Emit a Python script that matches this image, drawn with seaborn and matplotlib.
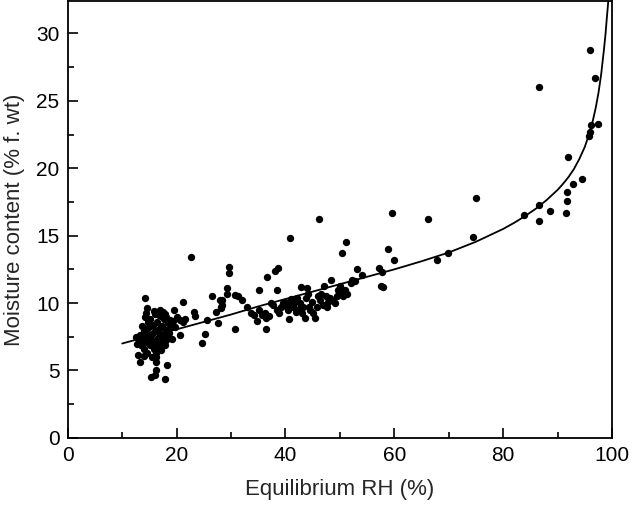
import matplotlib
matplotlib.use("Agg")
import matplotlib.pyplot as plt
import seaborn as sns
import pandas as pd
from matplotlib.ticker import MultipleLocator

# measured points: equilibrium RH (%) and moisture content (% f. wt)
rh = [
    # dense low-RH cluster
    13.0, 13.3, 13.5, 13.8, 14.0, 14.1, 14.3, 14.5, 14.6, 14.8, 15.0, 15.1, 15.3,
    15.4, 15.5, 15.7, 15.8, 16.0, 16.1, 16.2, 16.4, 16.5, 16.6, 16.8, 16.9, 17.0,
    17.1, 17.3, 17.4, 17.6, 17.7, 17.9, 18.0, 18.2, 18.4, 18.6, 18.9, 19.1, 19.4,
    14.2, 15.2, 16.8, 14.7, 13.6, 15.9, 17.9, 12.8, 12.6, 14.0, 16.3, 18.1,
    # low outliers
    12.9, 13.2, 16.3, 18.3, 16.2, 16.0, 15.3, 17.8,
    # 14-30 % above/around the line
    14.2, 21.1, 26.5, 28.4, 14.5, 14.3, 16.0, 16.9, 17.5, 17.2, 18.1, 18.75, 19.5,
    20.0, 20.6, 21.2, 21.5, 23.2, 23.3, 25.5, 27.3, 27.6, 28.2, 20.6, 25.2, 24.7,
    19.7, 22.7, 28.1,
    # 28-38 %
    29.7, 29.7, 36.6, 38.1, 38.7, 35.1, 38.4, 29.2, 29.2, 27.9, 28.3, 30.8, 31.3,
    32.1, 33.0, 30.7, 36.5, 33.7, 34.3, 34.7, 35.2, 35.6, 36.3, 36.5, 37.0, 37.3,
    # 38-53 % cluster
    37.7, 38.4, 38.8, 39.1, 39.5, 39.9, 40.2, 40.5, 40.7, 40.8, 41.1, 41.4, 41.7,
    41.9, 42.2, 42.4, 42.6, 42.8, 43.0, 43.3, 43.6, 43.8, 43.9, 44.2, 44.4, 44.5,
    44.8, 45.1, 45.4, 45.7, 46.0, 46.3, 46.6, 46.9, 47.1, 47.4, 47.7, 47.9, 48.2,
    48.4, 48.8, 49.1, 49.4, 49.7, 50.1, 50.3, 50.6, 50.9, 51.3, 52.0, 52.3, 52.7,
    # upper middle
    40.9, 46.1, 51.1, 50.4,
    # 53-75 %
    53.2, 54.1, 57.2, 57.7, 57.5, 58.0, 58.8, 60.0, 59.5, 66.2, 67.8, 69.8, 74.5, 75.0,
    # high RH
    83.8, 86.6, 86.6, 88.5, 86.6, 91.5, 91.7, 91.7, 92.9, 91.9, 94.5, 95.8, 96.0,
    96.1, 97.4, 96.9, 96.0,
]
mc = [
    7.2, 7.6, 6.9, 7.4, 8.0, 6.6, 7.1, 7.8, 6.3, 7.5, 8.2, 6.9, 7.3,
    6.0, 7.7, 8.4, 6.6, 7.1, 7.9, 6.3, 8.6, 7.4, 6.8, 8.1, 7.0, 7.7,
    6.5, 8.3, 7.2, 8.8, 7.6, 6.9, 8.0, 7.4, 8.5, 7.8, 8.2, 7.3, 8.7,
    9.0, 8.8, 9.1, 8.6, 8.3, 9.4, 9.2, 7.0, 7.5, 6.1, 6.0, 7.26,
    6.15, 5.65, 5.65, 5.4, 5.04, 4.67, 4.5, 4.35,
    10.35, 10.05, 10.5, 10.2, 9.6, 9.28, 9.19, 9.48, 9.36, 9.04, 8.94, 8.74, 9.48,
    8.94, 8.74, 8.62, 8.79, 9.36, 9.04, 8.74, 9.36, 8.49, 9.6, 7.63, 7.7, 7.06,
    8.2, 13.4, 9.7,
    12.7, 12.2, 11.9, 12.4, 12.6, 11.0, 11.0, 11.1, 10.7, 10.2, 9.85, 10.6, 10.5,
    10.2, 9.7, 8.1, 8.1, 9.24, 9.13, 8.64, 9.48, 9.09, 9.24, 8.86, 9.06, 10.0,
    9.83, 9.48, 9.28, 9.73, 9.98, 10.1, 9.73, 9.48, 8.79, 9.98, 10.27, 9.73, 10.1,
    9.36, 10.35, 9.53, 9.98, 11.2, 9.24, 9.73, 8.86, 10.35, 11.1, 10.7, 9.73, 9.48,
    10.1, 9.24, 8.91, 9.73, 10.5, 10.2, 10.7, 9.85, 11.3, 10.5, 9.73, 10.1, 10.35,
    11.7, 10.2, 9.98, 10.5, 10.96, 11.3, 10.7, 10.5, 10.96, 10.7, 11.5, 11.7, 11.6,
    14.8, 16.2, 14.5, 13.7,
    12.5, 12.1, 12.6, 12.3, 11.3, 11.2, 14.0, 13.2, 16.7, 16.2, 13.2, 13.7, 14.9, 17.8,
    16.5, 16.1, 17.3, 16.8, 26.0, 16.7, 17.6, 18.2, 18.8, 20.8, 19.2, 22.4, 22.7,
    23.2, 23.3, 26.7, 28.8,
]

# fitted isotherm
curve_rh = [10, 15, 20, 25, 30, 35, 40, 45, 50, 55, 60, 65, 70, 75, 80, 82, 84,
            86, 88, 90, 91, 92, 93, 94, 95, 96, 96.5, 97, 97.5, 98, 98.5, 98.8,
            99, 99.3]
curve_mc = [7.0, 7.55, 8.05, 8.6, 9.15, 9.75, 10.3, 10.85, 11.4, 11.95, 12.5,
            13.1, 13.75, 14.55, 15.5, 15.95, 16.45, 17.0, 17.65, 18.4, 18.85,
            19.35, 19.95, 20.7, 21.6, 22.8, 23.6, 24.5, 25.6, 27.0, 28.8, 30.0,
            31.0, 32.4]

points = pd.DataFrame({"rh": rh, "mc": mc})
curve = pd.DataFrame({"rh": curve_rh, "mc": curve_mc})

sns.set_style("ticks")
plt.rcParams["font.family"] = ["Liberation Sans", "DejaVu Sans"]

fig, ax = plt.subplots(figsize=(6.33, 5.08), dpi=100)
fig.subplots_adjust(left=0.107, right=0.967, bottom=0.138, top=0.998)

sns.scatterplot(data=points, x="rh", y="mc", ax=ax, color="black",
                s=28, linewidth=0, zorder=3)
sns.lineplot(data=curve, x="rh", y="mc", ax=ax, color="black",
             linewidth=1.3, sort=False, zorder=2)

ax.set_xlim(0, 100)
ax.set_ylim(0, 32.4)
ax.xaxis.set_major_locator(MultipleLocator(20))
ax.xaxis.set_minor_locator(MultipleLocator(10))
ax.yaxis.set_major_locator(MultipleLocator(5))
ax.yaxis.set_minor_locator(MultipleLocator(2.5))
ax.tick_params(which="both", direction="in", width=1.2, colors="black",
               labelsize=15, top=False, right=False)
ax.tick_params(which="major", length=7, pad=6)
ax.tick_params(which="minor", length=4)
for sp in ax.spines.values():
    sp.set_visible(True)
    sp.set_linewidth(1.3)
    sp.set_color("black")

ax.set_xlabel("Equilibrium RH (%)", fontsize=16, labelpad=10)
ax.set_ylabel("Moisture content (% f. wt)", fontsize=16, labelpad=8)

fig.savefig("out.png", dpi=100)
